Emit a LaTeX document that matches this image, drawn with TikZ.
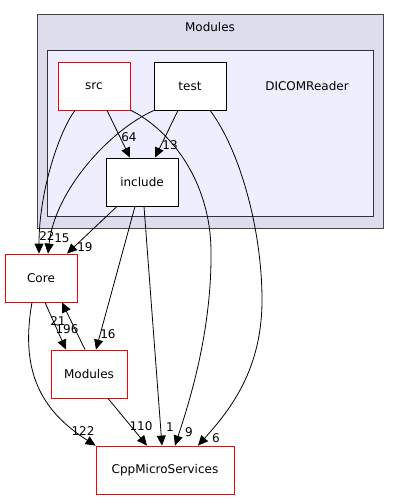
\documentclass[tikz,border=0pt]{standalone}
\usepackage{fontspec}
\setmainfont{DejaVu Sans}
\usetikzlibrary{arrows.meta}
\begin{document}
\begin{tikzpicture}[x=1pt,y=-1pt,font=\fontsize{12}{14}\selectfont,
    dirbox/.style={draw=black,fill=white,line width=0.8pt,minimum width=72pt,minimum height=48pt,inner sep=0pt},
    extbox/.style={dirbox,draw=red},
    dep/.style={-{Triangle[length=10pt,width=9pt]},line width=0.8pt},
    cnt/.style={inner sep=0pt}]
    \useasboundingbox (0,0) rectangle (400,500);
    \draw[fill={rgb,255:red,221;green,221;blue,238},draw={rgb,255:red,68;green,68;blue,68},line width=1pt] (37,15) rectangle (383,228);
    \node (modlabel) at (210,27) {Modules};
    \draw[fill={rgb,255:red,238;green,238;blue,255},draw={rgb,255:red,51;green,51;blue,51},line width=1pt] (47,51) rectangle (373,216);
    \node (readerlabel) at (307,86) {DICOMReader};
    \node[extbox] (src) at (94,86) {src};
    \node[dirbox] (test) at (190,86) {test};
    \node[dirbox] (include) at (142,182) {include};
    \node[extbox] (core) at (41,278) {Core};
    \node[extbox,minimum width=76pt] (modules) at (89,374) {Modules};
    \node[extbox,minimum width=138pt] (cpp) at (165,470) {CppMicroServices};
    \draw[dep] ([xshift=-19pt]src.south) .. controls (60,130) and (39,190) .. ([xshift=-2pt]core.north);
    \draw[dep] ([xshift=-36pt]test.south) .. controls (110,130) and (55,190) .. ([xshift=7pt]core.north);
    \draw[dep] ([xshift=-25pt]include.south) -- ([xshift=26pt]core.north);
    \draw[dep] ([xshift=13pt]src.south) -- ([xshift=-12pt]include.north);
    \draw[dep] ([xshift=-12pt]test.south) -- ([xshift=13pt]include.north);
    \draw[dep] ([xshift=37pt]src.south) .. controls (170,130) and (210,180) .. (211,250) .. controls (212,330) and (190,400) .. ([xshift=10pt]cpp.north);
    \draw[dep] ([xshift=20pt]test.south) .. controls (240,150) and (262,230) .. (262,300) .. controls (262,370) and (230,410) .. ([xshift=33pt]cpp.north);
    \draw[dep] ([xshift=-7pt]include.south) -- ([xshift=7pt]modules.north);
    \draw[dep] ([xshift=2pt]include.south) -- ([xshift=-3pt]cpp.north);
    \draw[dep] ([xshift=4pt]core.south) -- ([xshift=-23pt]modules.north);
    \draw[dep] ([xshift=-4pt]modules.north) -- ([xshift=21pt]core.south);
    \draw[dep] ([xshift=-9pt]core.south) .. controls (20,370) and (40,410) .. (cpp.north west);
    \draw[dep] ([xshift=19pt]modules.south) -- ([xshift=-18pt]cpp.north);
    \node[cnt] (n22) at (47,236) {22};
    \node[cnt] (n15) at (62,238) {15};
    \node[cnt] (n19) at (85,247) {19};
    \node[cnt] (n64) at (129,137) {64};
    \node[cnt] (n13) at (170,145) {13};
    \node[cnt] (n16) at (108,334) {16};
    \node[cnt] (n21) at (58,321) {21};
    \node[cnt] (n196) at (67,329) {196};
    \node[cnt] (n122) at (83,431) {122};
    \node[cnt] (n110) at (141,426) {110};
    \node[cnt] (n1) at (170,427) {1};
    \node[cnt] (n9) at (189,432) {9};
    \node[cnt] (n6) at (216,438) {6};
\end{tikzpicture}
\end{document}
